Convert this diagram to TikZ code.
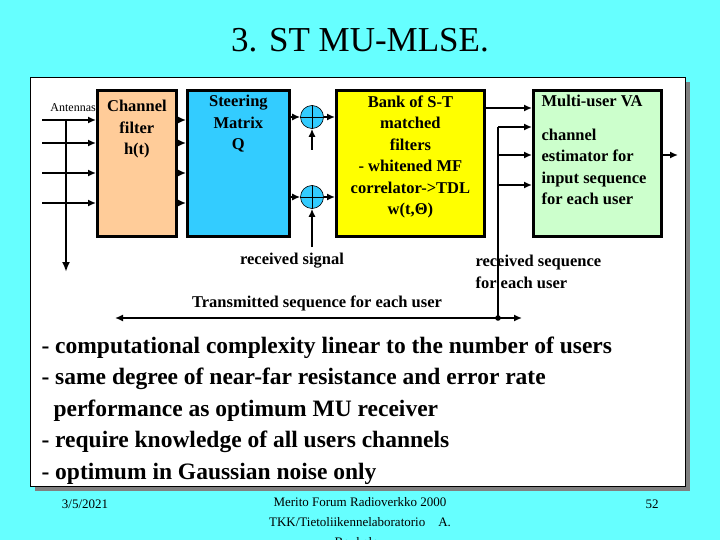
\documentclass[tikz,border=0pt]{standalone}
\usepackage{fontspec}
\setmainfont{Liberation Serif}
\usetikzlibrary{arrows.meta}
\definecolor{bgc}{HTML}{66FFFF}
\definecolor{peach}{HTML}{FFCC99}
\definecolor{sblue}{HTML}{33CCFF}
\definecolor{yel}{HTML}{FFFF00}
\definecolor{grn}{HTML}{CCFFCC}
\begin{document}
\begin{tikzpicture}[x=1pt,y=-1pt,
 blk/.style={draw,line width=2.8pt,anchor=north west,align=center},
 lbl/.style={font=\bfseries\fontsize{16.5}{21.5}\selectfont,align=center},
 arr/.style={-{Latex[length=8pt,width=7pt]},line width=1.5pt},
 add/.style={circle,draw,fill=sblue,minimum size=23pt,inner sep=0pt,line width=0.6pt}]
\useasboundingbox (0,0) rectangle (720,540);
\fill[bgc] (0,0) rectangle (720,540);
\fill[gray] (35,82) rectangle (690,491);
\draw[fill=white,line width=0.8pt] (30,77) rectangle (685,486);
\node[font=\fontsize{35}{38}\selectfont] (title) at (360,40) {3. ST MU-MLSE.};
% blocks
\node[blk,fill=peach,minimum width=79pt,minimum height=146pt] (cf) at (96,89) {};
\node[lbl,anchor=north] at (cf.north) [yshift=-8pt] {Channel\\filter\\h(t)};
\node[blk,fill=sblue,minimum width=102pt,minimum height=146pt] (sm) at (186,89) {};
\node[lbl,anchor=north] at (sm.north) [yshift=-3pt] {Steering\\Matrix\\Q};
\node[blk,fill=yel,minimum width=148pt,minimum height=146pt] (bk) at (335,89) {};
\node[lbl,anchor=north] at (bk.north) [yshift=-3pt] {Bank of S-T\\matched\\filters\\- whitened MF\\correlator->TDL\\w(t,Θ)};
\node[blk,fill=grn,minimum width=128pt,minimum height=146pt] (va) at (532,89) {};
\node[lbl,anchor=north west,align=left] at (va.north west) [xshift=6pt,yshift=-3pt] {Multi-user VA\\[12pt]channel\\estimator for\\input sequence\\for each user};
\node[add] (a1) at (312,117) {};
\node[add] (a2) at (312,197) {};
\draw (a1.north) -- (a1.south) (a1.west) -- (a1.east) (a2.north) -- (a2.south) (a2.west) -- (a2.east);
% antennas
\node[font=\fontsize{12}{12}\selectfont,anchor=east,inner sep=1pt] (ant) at (97,108) {Antennas};
\foreach \y in {120,143,173,203}{
 \coordinate (s\y) at (42,\y);
 \draw[arr] (s\y) -- (cf.west |- s\y);
 \draw[arr] (cf.east |- s\y) -- (sm.west |- s\y);}
\coordinate (vt) at (66,120); \coordinate (vb) at (66,272);
\draw[-{Latex[length=10pt,width=8pt]},line width=2.2pt] (vt) -- (vb);
\draw[arr] (sm.east |- a1) -- (a1);
\draw[arr] (sm.east |- a2) -- (a2);
\draw[arr] (a1) -- (bk.west |- a1);
\draw[arr] (a2) -- (bk.west |- a2);
\coordinate (i1) at (312,150); \coordinate (i2) at (312,247);
\draw[arr] (i1) -- (a1.south);
\draw[arr] (i2) -- (a2.south);
\coordinate (b1) at (483,108);
\draw[arr] (b1) -- (va.west |- b1);
\coordinate (vx) at (498,318); \coordinate (vy) at (498,127);
\draw[line width=1.5pt] (vx) -- (vy);
\foreach \y in {127,155,185}{\coordinate (r\y) at (498,\y); \draw[arr] (r\y) -- (va.west |- r\y);}
\coordinate (o) at (678,155);
\draw[arr] (va.east |- o) -- (o);
\coordinate (le) at (115,318); \coordinate (re) at (522,318);
\draw[arr] (vx) -- (le);
\draw[arr] (vx) -- (re);
\fill (vx) circle (2.8pt);
\node[lbl,anchor=center] (rs) at (292,261) {received signal};
\node[lbl,anchor=west,align=left] (rq) at (472,272) {received sequence\\for each user};
\node[lbl,anchor=center] (ts) at (317,303) {Transmitted sequence for each user};
% bullets
\node[anchor=north west,align=left,font=\bfseries\fontsize{23.5}{31.5}\selectfont] (bul) at (38,333)
{- computational complexity linear to the number of users\\
- same degree of near-far resistance and error rate\\
\hspace*{12pt}performance as optimum MU receiver\\
- require knowledge of all users channels\\
- optimum in Gaussian noise only};
\node[font=\fontsize{13}{20}\selectfont] (d) at (85,504) {3/5/2021};
\node[font=\fontsize{13}{20}\selectfont] (n) at (652,504) {52};
\node[anchor=north,align=center,font=\fontsize{13}{20}\selectfont] (f) at (360,494) {Merito Forum Radioverkko 2000\\TKK/Tietoliikennelaboratorio\quad A.\\Boukalov};
\end{tikzpicture}
\end{document}
